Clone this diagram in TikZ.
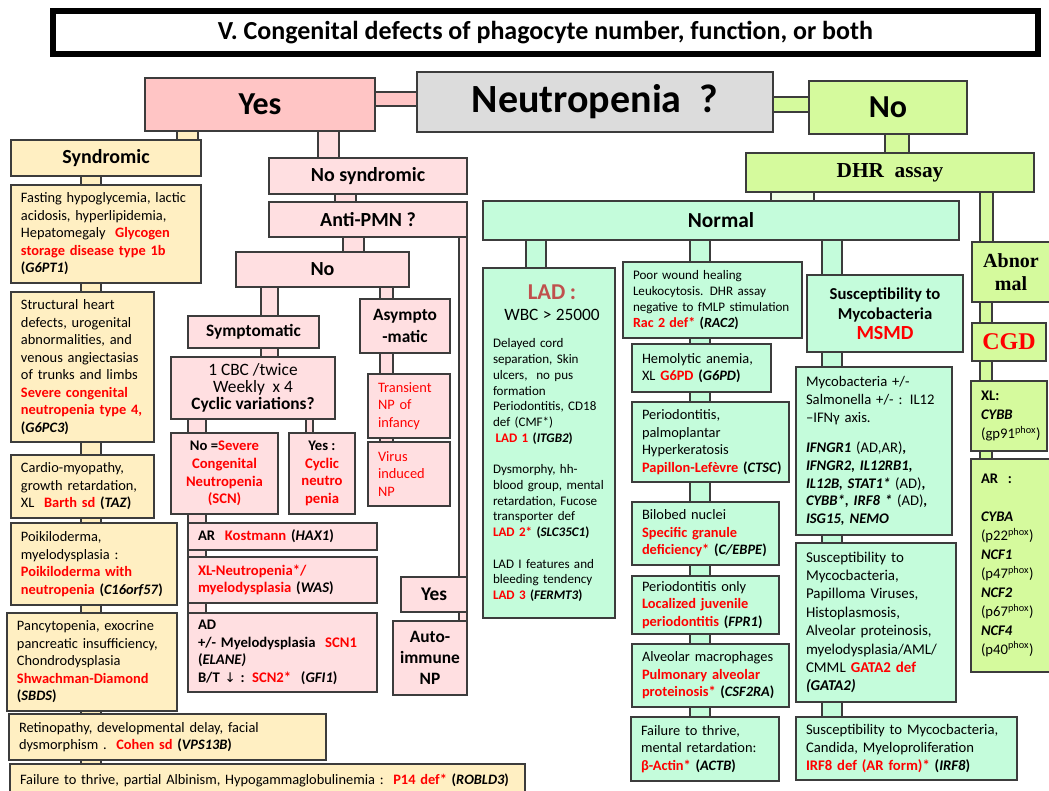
\documentclass[tikz,border=0pt]{standalone}
\usepackage{fontspec}
\setmainfont{Carlito}
\newfontfamily\timesf{Liberation Serif}
\newfontfamily\dejavu{DejaVu Sans}
\usetikzlibrary{calc}
\definecolor{rd}{HTML}{FF0000}
\definecolor{bord}{HTML}{3C3C3C}
\definecolor{pinkA}{HTML}{FFC5C5}
\definecolor{pinkB}{HTML}{FFDFE1}
\definecolor{yel}{HTML}{FFEFC2}
\definecolor{lime}{HTML}{D5FA9D}
\definecolor{mint}{HTML}{C4FCDB}
\definecolor{grayN}{HTML}{DCDCDC}
\definecolor{ladc}{HTML}{C0504D}
\definecolor{pale}{HTML}{EFFDE6}
\newcommand\redt[1]{\textcolor{rd}{#1}}
\newcommand\gi[1]{\textbf{\textit{#1}}}
\pgfdeclarelayer{bg}
\pgfsetlayers{bg,main}
\newcommand\mkbox[7]{%
  \pgfmathsetmacro\bw{(#5-#3)*0.75}%
  \pgfmathsetmacro\bh{(#6-#4)*0.75}%
  \pgfmathsetmacro\tw{(#5-#3)*0.75-6}%
  \node[bx,align=left,#2,anchor=north west,minimum width=\bw pt,minimum height=\bh pt,text width=\tw pt] (#1) at (#3,#4) {\leftskip=4.5pt\relax#7\par};}
\newcommand\mkcbox[7]{%
  \pgfmathsetmacro\bw{(#5-#3)*0.75}%
  \pgfmathsetmacro\bh{(#6-#4)*0.75}%
  \node[bx,align=center,#2,anchor=north west,minimum width=\bw pt,minimum height=\bh pt] (#1) at (#3,#4) {#7};}
\newcommand\vconn[5]{%
  \begin{pgfonlayer}{bg}\path[conn,#1] (#2,0 |- #4.south) rectangle (#3,0 |- #5.north);\end{pgfonlayer}}
\newcommand\hconn[5]{%
  \begin{pgfonlayer}{bg}\path[conn,#1] (#4.east |- 0,#2) rectangle (#5.west |- 0,#3);\end{pgfonlayer}}
\begin{document}
\begin{tikzpicture}[x=0.75pt,y=-0.75pt,
  bx/.style={draw=bord,line width=0.9pt,inner xsep=3pt,inner ysep=1pt,outer sep=0pt},
  conn/.style={draw=bord,line width=0.9pt},
  yb/.style={fill=yel,font=\fontsize{10.8}{13.1}\selectfont},
  pb/.style={fill=pinkB,font=\bfseries\fontsize{15}{17}\selectfont},
  mb/.style={fill=mint,font=\fontsize{10.8}{13.2}\selectfont},
  pbs/.style={fill=pinkB,font=\bfseries\fontsize{11}{13.2}\selectfont}]
\useasboundingbox (0,0) rectangle (1049,790);
\begin{pgfonlayer}{bg}\fill[white] (0,0) rectangle (1049,790);\end{pgfonlayer}
% title
\node[draw=black,line width=4.5pt,minimum width=738.75pt,minimum height=32.25pt,inner sep=0pt,
  font=\bfseries\fontsize{19.5}{22}\selectfont] (title) at (545.5,32.5)
  {V. Congenital defects of phagocyte number, function, or both};
% top row
\mkcbox{neut}{fill=grayN,font=\bfseries\fontsize{30}{33}\selectfont}{417}{72}{773}{132}{Neutropenia\ \ ?}
\mkcbox{yes}{fill=pinkA,font=\bfseries\fontsize{24}{28}\selectfont}{145}{78}{375}{131}{Yes}
\mkcbox{no}{fill=lime,font=\bfseries\fontsize{24}{28}\selectfont}{809}{81}{967}{134}{No}
\mkcbox{dhr}{fill=lime,font=\timesf\bfseries\fontsize{16}{18}\selectfont}{746}{153}{1034}{192}{DHR\ \ assay}
\mkcbox{normal}{fill=mint,font=\bfseries\fontsize{16}{18}\selectfont}{483}{201}{959}{240}{Normal}
\mkcbox{abn}{fill=lime,font=\timesf\bfseries\fontsize{15}{17.5}\selectfont}{972}{242}{1050}{302}{Abnor\\mal}
\mkcbox{cgd}{fill=lime,text=rd,font=\timesf\bfseries\fontsize{18}{20}\selectfont}{972}{323}{1046}{361}{CGD}
\mkbox{xl}{fill=lime,font=\fontsize{11}{14.2}\selectfont}{971}{381}{1047}{451}{\textbf{XL:}\\\gi{CYBB}\\(gp91\textsuperscript{phox})}
\mkbox{ar}{fill=lime,font=\fontsize{11}{14.2}\selectfont}{971}{459}{1050}{672}{\textbf{AR\ \ :}\\[14.2pt]\gi{CYBA}\\(p22\textsuperscript{phox})\\\gi{NCF1}\\(p47\textsuperscript{phox})\\\gi{NCF2}\\(p67\textsuperscript{phox})\\\gi{NCF4}\\(p40\textsuperscript{phox})}
% green column: LAD
\mkbox{lad}{fill=mint,font=\fontsize{9.8}{11.8}\selectfont}{483}{268}{615}{618}{%
\makebox[\dimexpr\linewidth-4.5pt\relax][c]{\textcolor{ladc}{\bfseries\fontsize{17}{20}\selectfont LAD :}}\\[4pt]
\makebox[\dimexpr\linewidth-4.5pt\relax][c]{\fontsize{13}{15}\selectfont WBC > 25000}\\[9pt]
Delayed cord\\separation, Skin\\ulcers,\ \ no pus\\formation\\Periodontitis, CD18\\def (CMF*)\\
\hspace*{2pt}\redt{\textbf{LAD 1}} \textbf{(\gi{ITGB2})}\\[11.8pt]
Dysmorphy, hh-\\blood group, mental\\retardation, Fucose\\transporter def\\
\redt{\textbf{LAD 2*}} \textbf{(\gi{SLC35C1})}\\[11.8pt]
LAD I features and\\bleeding tendency\\\redt{\textbf{LAD 3}} \textbf{(\gi{FERMT3})}}
% green column: middle
\mkbox{rac}{fill=mint,font=\fontsize{9.8}{12}\selectfont}{623}{262}{802}{338}{Poor wound healing\\Leukocytosis. DHR assay\\negative to fMLP stimulation\\{\fontsize{10.5}{12}\selectfont\bfseries\redt{Rac 2 def*} (\textit{RAC2})}}
\mkbox{g6pd}{mb}{632}{344}{771}{392}{Hemolytic anemia,\\XL \redt{\textbf{G6PD}} \textbf{(\gi{G6PD})}}
\mkbox{pap}{mb}{632}{402}{789}{482}{Periodontitis,\\palmoplantar\\Hyperkeratosis\\\redt{\textbf{Papillon-Lefèvre}} \textbf{(\gi{CTSC})}}
\mkbox{bil}{mb}{632}{502}{779}{565}{Bilobed nuclei\\\redt{\textbf{Specific granule}}\\\redt{\textbf{deficiency*}} \textbf{(\gi{C/EBPE})}}
\mkbox{per}{mb}{632}{576}{779}{634}{Periodontitis only\\\redt{\textbf{Localized juvenile}}\\\redt{\textbf{periodontitis}} \textbf{(\gi{FPR1})}}
\mkbox{alv}{mb}{632}{644}{789}{707}{Alveolar macrophages\\\redt{\textbf{Pulmonary alveolar}}\\\redt{\textbf{proteinosis*}} \textbf{(\gi{CSF2RA})}}
\mkbox{act}{mb}{631}{717}{779}{781}{Failure to thrive,\\mental retardation:\\\redt{\textbf{β-Actin*}} \textbf{(\gi{ACTB})}}
% green column: right
\mkcbox{msmd}{fill=mint,font=\bfseries\fontsize{12.5}{15}\selectfont}{807}{275}{963}{352}{Susceptibility to\\Mycobacteria\\{\fontsize{15}{17}\selectfont\redt{MSMD}}}
\mkbox{myco}{fill=mint,font=\fontsize{11}{13.2}\selectfont}{796}{367}{952}{535}{Mycobacteria +/-\\Salmonella +/- : IL12\\–IFNγ axis.\\[10pt]\gi{IFNGR1} (AD,AR)\textbf{,}\\\gi{IFNGR2, IL12RB1,}\\\gi{IL12B, STAT1*} (AD)\textbf{,}\\\gi{CYBB*}\textbf{, }\gi{IRF8 *} (AD)\textbf{,}\\\gi{ISG15, NEMO}}
\mkbox{gata}{fill=mint,font=\fontsize{11.2}{13.8}\selectfont}{796}{543}{956}{702}{Susceptibility to\\Mycocbacteria,\\Papilloma Viruses,\\Histoplasmosis,\\Alveolar proteinosis,\\myelodysplasia/AML/\\CMML \redt{\textbf{GATA2 def}}\\\gi{(GATA2)}}
\mkbox{irf}{fill=mint,font=\fontsize{11}{13.4}\selectfont}{796}{717}{1017}{780}{Susceptibility to Mycocbacteria,\\Candida, Myeloproliferation\\\redt{\textbf{IRF8 def (AR form)*}} \textbf{(\gi{IRF8})}}
% yellow column
\mkcbox{synd}{fill=yel,font=\bfseries\fontsize{15}{17}\selectfont}{11}{140}{201}{176}{Syndromic}
\mkbox{fast}{yb}{11}{185}{201}{283}{Fasting hypoglycemia, lactic\\acidosis, hyperlipidemia,\\Hepatomegaly\ \ \redt{\textbf{Glycogen}}\\\redt{\textbf{storage disease type 1b}}\\\textbf{(\textit{G6PT1})}}
\mkbox{struct}{yb}{11}{292}{154}{442}{Structural heart\\defects, urogenital\\abnormalities, and\\venous angiectasias\\of trunks and limbs\\\redt{\textbf{Severe congenital}}\\\redt{\textbf{neutropenia type 4,}}\\\textbf{(\textit{G6PC3})}}
\mkbox{cardio}{yb}{11}{455}{154}{518}{Cardio-myopathy,\\growth retardation,\\XL\ \ \redt{\textbf{Barth sd}} \textbf{(\textit{TAZ})}}
\mkbox{poik}{yb}{11}{523}{177}{605}{Poikiloderma,\\myelodysplasia :\\\redt{\textbf{Poikiloderma with}}\\\redt{\textbf{neutropenia}} \textbf{(\textit{C16orf57})}}
\mkbox{panc}{yb}{7}{613}{177}{711}{Pancytopenia, exocrine\\pancreatic insufficiency,\\Chondrodysplasia\\\redt{\textbf{Shwachman-Diamond}}\\\textbf{(\textit{SBDS})}}
\mkbox{retin}{yb}{9}{714}{326}{760}{Retinopathy, developmental delay, facial\\dysmorphism .\ \ \redt{\textbf{Cohen sd}} \textbf{(\textit{VPS13B})}}
\mkbox{fail}{yb}{10}{764}{525}{796}{Failure to thrive, partial Albinism, Hypogammaglobulinemia :\ \ \redt{\textbf{P14 def*}} \textbf{(\textit{ROBLD3})}}
% pink column
\mkcbox{nosyn}{pb}{269}{158}{467}{194}{No syndromic}
\mkcbox{anti}{pb}{269}{202}{467}{237}{Anti-PMN ?}
\mkcbox{nomid}{pb}{236}{252}{409}{287}{No}
\mkcbox{symp}{pb,font=\bfseries\fontsize{13}{15}\selectfont}{188}{316}{319}{348}{Symptomatic}
\mkcbox{asym}{pb,font=\bfseries\fontsize{13}{16}\selectfont}{360}{299}{450}{353}{Asympto\\-matic}
\mkcbox{cbc}{fill=pinkB,font=\fontsize{13}{12.8}\selectfont}{171}{357}{335}{419}{1 CBC /twice\\Weekly\ \ x 4\\\textbf{Cyclic variations?}}
\mkcbox{noscn}{pbs}{171}{433}{278}{514}{No =\redt{Severe}\\\redt{Congenital}\\\redt{Neutropenia}\\\redt{(SCN)}}
\mkcbox{yescyc}{pbs}{289}{433}{355}{514}{Yes :\\\redt{Cyclic}\\\redt{neutro}\\\redt{penia}}
\mkbox{trans}{fill=pinkB,text=rd,font=\fontsize{10.8}{13.3}\selectfont}{368}{374}{450}{438}{Transient\\NP of\\infancy}
\mkbox{virus}{fill=pinkB,text=rd,font=\fontsize{10.8}{13.3}\selectfont}{368}{442}{450}{506}{Virus\\induced\\NP}
\mkbox{kost}{pbs}{188}{523}{377}{550}{AR\ \ \redt{Kostmann} (\textit{HAX1})}
\mkbox{xlneu}{pbs}{188}{557}{377}{603}{\redt{XL-Neutropenia*/}\\\redt{myelodysplasia} (\textit{WAS})}
\mkbox{adb}{pbs}{188}{613}{377}{692}{AD\\+/- Myelodysplasia\ \ \redt{SCN1}\\(\textit{ELANE)}\\B/T {\dejavu\mdseries\fontsize{10}{12}\selectfont ↓} : \redt{SCN2*}\ \ (\textit{GFI1})}
\mkcbox{yesauto}{pb,font=\bfseries\fontsize{14.5}{16}\selectfont}{401}{577}{467}{612}{Yes}
\mkcbox{auto}{pb,font=\bfseries\fontsize{13}{15.5}\selectfont}{393}{621}{467}{695}{Auto-\\immune\\NP}
% connectors
\hconn{fill=pinkA}{92}{106}{yes}{neut}
\hconn{fill=lime}{97}{112}{neut}{no}
\vconn{fill=lime}{885}{909}{no}{dhr}
\vconn{fill=pale}{771}{814}{dhr}{normal}
\vconn{fill=lime}{980}{993}{dhr}{abn}
\vconn{fill=lime}{980}{992}{abn}{cgd}
\vconn{fill=lime}{980}{992}{cgd}{xl}
\vconn{fill=lime}{980}{992}{xl}{ar}
\vconn{fill=mint}{526}{546}{normal}{lad}
\vconn{fill=mint}{690}{710}{normal}{rac}
\vconn{fill=mint}{690}{710}{rac}{g6pd}
\vconn{fill=mint}{690}{710}{g6pd}{pap}
\vconn{fill=mint}{690}{710}{pap}{bil}
\vconn{fill=mint}{690}{710}{bil}{per}
\vconn{fill=mint}{690}{710}{per}{alv}
\vconn{fill=mint}{690}{710}{alv}{act}
\vconn{fill=mint}{822}{842}{normal}{msmd}
\vconn{fill=mint}{822}{842}{msmd}{myco}
\vconn{fill=mint}{822}{842}{myco}{gata}
\vconn{fill=mint}{822}{842}{gata}{irf}
\vconn{fill=yel}{177}{198}{yes}{synd}
\vconn{fill=yel}{81}{101}{synd}{fast}
\vconn{fill=yel}{81}{101}{fast}{struct}
\vconn{fill=yel}{81}{101}{struct}{cardio}
\vconn{fill=yel}{81}{101}{cardio}{poik}
\vconn{fill=yel}{81}{101}{poik}{panc}
\vconn{fill=yel}{81}{101}{panc}{retin}
\vconn{fill=yel}{81}{101}{retin}{fail}
\vconn{fill=pinkB}{318}{339}{yes}{nosyn}
\vconn{fill=pinkB}{335}{356}{nosyn}{anti}
\vconn{fill=pinkB}{343}{364}{anti}{nomid}
\vconn{fill=pinkB}{459}{467}{anti}{yesauto}
\vconn{fill=pinkB}{459}{467}{yesauto}{auto}
\vconn{fill=pinkB}{261}{278}{nomid}{symp}
\vconn{fill=pinkB}{261}{278}{symp}{cbc}
\vconn{fill=pinkB}{188}{206}{cbc}{noscn}
\vconn{fill=pinkB}{306}{313}{cbc}{yescyc}
\vconn{fill=pinkB}{188}{206}{noscn}{kost}
\vconn{fill=pinkB}{188}{206}{kost}{xlneu}
\vconn{fill=pinkB}{188}{206}{xlneu}{adb}
\vconn{fill=pinkB}{380}{393}{nomid}{asym}
\vconn{fill=pinkB}{380}{393}{asym}{trans}
\vconn{fill=pinkB}{380}{393}{trans}{virus}
\end{tikzpicture}
\end{document}
